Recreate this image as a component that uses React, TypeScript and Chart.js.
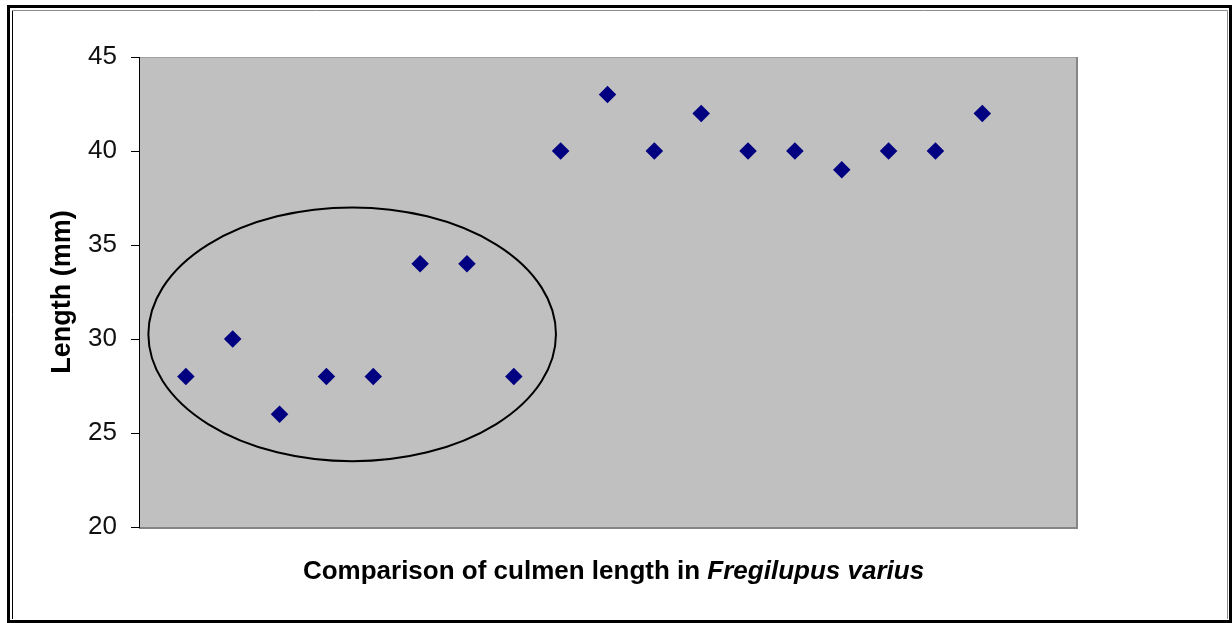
import React, { useEffect, useRef } from "react";
import { Chart, registerables } from "chart.js";

Chart.register(...registerables);

// Sample index (x) and culmen length in mm (y)
const sampleIndex = [1, 2, 3, 4, 5, 6, 7, 8, 9, 10, 11, 12, 13, 14, 15, 16, 17, 18];
const lengthMm = [28, 30, 26, 28, 28, 34, 34, 28, 40, 43, 40, 42, 40, 40, 39, 40, 40, 42];
const yTicks = [20, 25, 30, 35, 40, 45];
const xRange = [0, 20];

// Ellipse highlighting the first group (data units: centre x, centre y, radius x, radius y)
const ellipseCenter = [4.55, 30.25];
const ellipseRadii = [4.35, 6.75];

const yAxisTitle = "Length (mm)";
const xTitlePlain = "Comparison of culmen length in ";
const xTitleItalic = "Fregilupus varius";

const W = 1232;
const H = 623;

export default function App() {
  const ref = useRef<HTMLCanvasElement | null>(null);

  useEffect(() => {
    document.body.style.margin = "0";
    const canvas = ref.current;
    if (!canvas) return;

    const framePlugin = {
      id: "framePlugin",
      beforeDraw(chart: any) {
        const ctx = chart.ctx;
        const a = chart.chartArea;
        ctx.save();
        ctx.fillStyle = "#ffffff";
        ctx.fillRect(0, 0, W, H);
        // outer double frame
        ctx.strokeStyle = "#000000";
        ctx.lineWidth = 3;
        ctx.strokeRect(8.5, 6.5, 1222, 615);
        ctx.lineWidth = 1;
        ctx.beginPath();
        ctx.moveTo(12.5, 10.5);
        ctx.lineTo(12.5, 619);
        ctx.stroke();
        ctx.strokeStyle = "#8c8c8c";
        ctx.beginPath();
        ctx.moveTo(12.5, 10.5);
        ctx.lineTo(1227.5, 10.5);
        ctx.lineTo(1227.5, 619);
        ctx.stroke();
        // plot area
        ctx.fillStyle = "#c0c0c0";
        ctx.fillRect(a.left, a.top, a.right - a.left, a.bottom - a.top);
        ctx.strokeStyle = "#a0a0a0";
        ctx.lineWidth = 1;
        ctx.beginPath();
        ctx.moveTo(a.left, a.top + 0.5);
        ctx.lineTo(a.right, a.top + 0.5);
        ctx.stroke();
        ctx.strokeStyle = "#858585";
        ctx.lineWidth = 2;
        ctx.beginPath();
        ctx.moveTo(a.right + 1, a.top);
        ctx.lineTo(a.right + 1, a.bottom + 1);
        ctx.lineTo(a.left, a.bottom + 1);
        ctx.stroke();
        ctx.restore();
      },
      afterDraw(chart: any) {
        const ctx = chart.ctx;
        const xs = chart.scales.x;
        const ys = chart.scales.y;
        const a = chart.chartArea;
        // ellipse
        const cx = xs.getPixelForValue(ellipseCenter[0]);
        const cy = ys.getPixelForValue(ellipseCenter[1]);
        const rx = Math.abs(xs.getPixelForValue(ellipseCenter[0] + ellipseRadii[0]) - cx);
        const ry = Math.abs(ys.getPixelForValue(ellipseCenter[1] + ellipseRadii[1]) - cy);
        ctx.save();
        ctx.strokeStyle = "#000000";
        ctx.lineWidth = 2;
        ctx.beginPath();
        ctx.ellipse(cx, cy, rx, ry, 0, 0, Math.PI * 2);
        ctx.stroke();
        // x title with italic species name
        const fPlain = "bold 26px 'Liberation Sans', Arial, sans-serif";
        const fItal = "italic bold 26px 'Liberation Sans', Arial, sans-serif";
        ctx.font = fPlain;
        const w1 = ctx.measureText(xTitlePlain).width;
        ctx.font = fItal;
        const w2 = ctx.measureText(xTitleItalic).width;
        const center = (a.left + a.right) / 2 + 6;
        const startX = center - (w1 + w2) / 2;
        ctx.fillStyle = "#000000";
        ctx.textBaseline = "alphabetic";
        ctx.textAlign = "left";
        ctx.font = fPlain;
        ctx.fillText(xTitlePlain, startX, a.bottom + 52);
        ctx.font = fItal;
        ctx.fillText(xTitleItalic, startX + w1, a.bottom + 52);
        ctx.restore();
      },
    };

    const chart = new Chart(canvas, {
      type: "scatter",
      data: {
        datasets: [
          {
            label: "Culmen length",
            data: sampleIndex.map((x, i) => ({ x, y: lengthMm[i] })),
            pointStyle: "rectRot",
            pointRadius: 7,
            pointBackgroundColor: "#000080",
            pointBorderColor: "#000080",
            pointBorderWidth: 2.5,
          },
        ],
      },
      options: {
        responsive: false,
        animation: false,
        devicePixelRatio: 1,
        layout: { padding: { left: 0, top: 57, right: 156, bottom: 96 } },
        plugins: {
          legend: { display: false },
          tooltip: { enabled: false },
          title: { display: false },
        },
        scales: {
          x: {
            type: "linear",
            min: xRange[0],
            max: xRange[1],
            display: false,
          },
          y: {
            type: "linear",
            min: yTicks[0],
            max: yTicks[yTicks.length - 1],
            afterFit(scale: any) {
              scale.width = 139;
            },
            afterBuildTicks(scale: any) {
              scale.ticks = yTicks.map((v) => ({ value: v }));
            },
            ticks: {
              padding: 14,
              color: "#111111",
              font: { family: "'Liberation Sans', Arial, sans-serif", size: 26 },
            },
            grid: {
              drawOnChartArea: false,
              drawTicks: true,
              tickLength: 8,
              color: "#000000",
              lineWidth: 1,
            },
            border: { display: true, color: "#000000", width: 1 },
            title: {
              display: true,
              text: yAxisTitle,
              color: "#000000",
              font: { family: "'Liberation Sans', Arial, sans-serif", size: 27, weight: "bold" },
              padding: { top: 46, bottom: 0 },
            },
          },
        },
      },
      plugins: [framePlugin],
    });

    return () => chart.destroy();
  }, []);

  return (
    <div style={{ position: "absolute", left: 0, top: 0, width: W, height: H }}>
      <canvas ref={ref} width={W} height={H} style={{ width: W, height: H, display: "block" }} />
    </div>
  );
}
